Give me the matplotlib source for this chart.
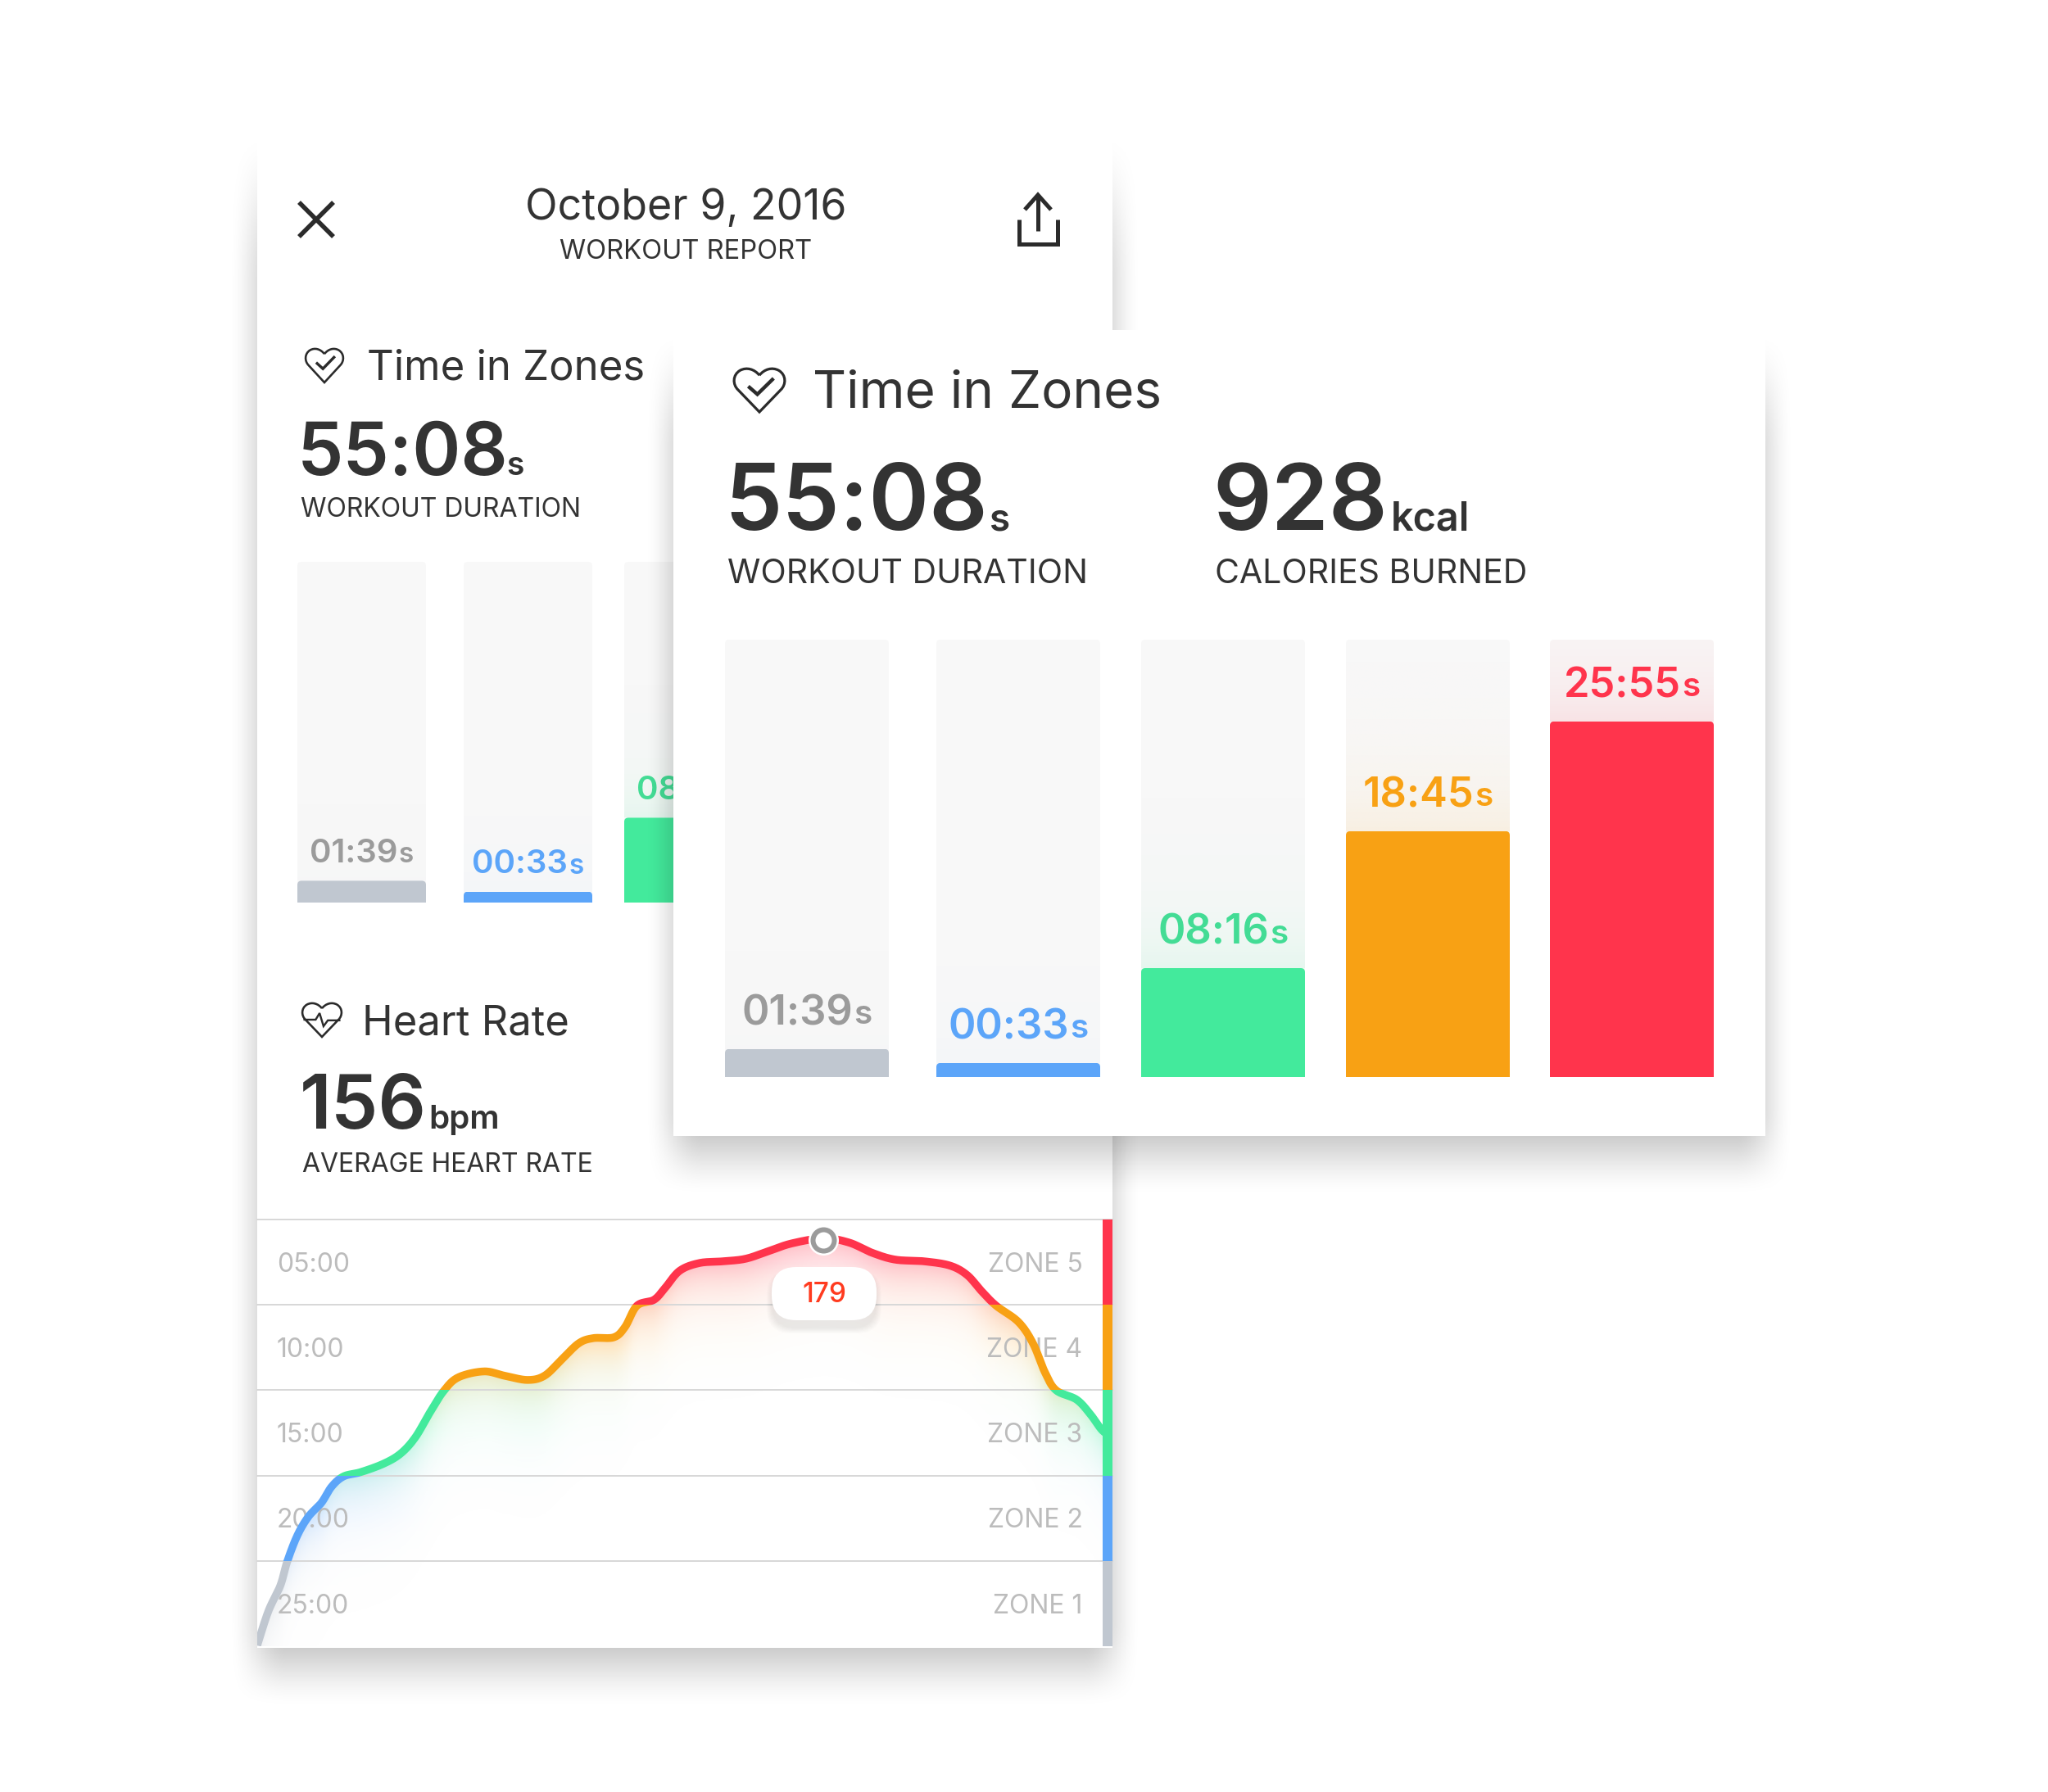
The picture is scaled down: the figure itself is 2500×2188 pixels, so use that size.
#!/usr/bin/env python
"""Workout report mock-up: phone card with heart-rate curve, zoomed zone card on top."""
import matplotlib

matplotlib.use("Agg")
import matplotlib.pyplot as plt
import numpy as np
from matplotlib.colors import to_rgb
from matplotlib.patches import FancyBboxPatch, PathPatch, Rectangle
from matplotlib.path import Path
from matplotlib.transforms import IdentityTransform

plt.rcParams["font.family"] = ["Inter", "DejaVu Sans"]

W, H = 2500, 2188
PX = 0.72  # points per pixel at dpi 100
DARK = "#333333"
TRACK = "#f8f8f8"

# zones, lowest first
ZONE_NAMES = ["ZONE 1", "ZONE 2", "ZONE 3", "ZONE 4", "ZONE 5"]
ZONE_TIMES = ["25:00", "20:00", "15:00", "10:00", "05:00"]
ZONE_COLORS = ["#c0c7d0", "#5ca5f9", "#43ea9c", "#f8a114", "#ff344c"]
ZONE_TEXT = ["#9b9b9b", "#5ca5f9", "#43dc95", "#f8a114", "#ff344c"]
ZONE_WASH = [0.025, 0.025, 0.10, 0.10, 0.11]

# time in zone: label and bar fill (percent of the track)
ZONE_LABELS = ["01:39", "00:33", "08:16", "18:45", "25:55"]
ZONE_FILL = [6.4, 3.2, 24.9, 56.2, 81.3]

# heart-rate curve: percent of chart width, height in zone units
HR_X = [0.0, 1.3, 2.7, 3.5, 4.7, 6.0, 7.5, 8.7, 10.1, 12.1, 14.8, 16.8, 18.5, 20.2, 21.8,
        23.5, 26.5, 28.9, 31.6, 33.6, 35.6, 37.6, 39.3, 41.7, 43.0, 44.4, 46.4, 47.7, 49.4,
        51.7, 54.4, 57.1, 59.8, 62.5, 66.2, 69.2, 71.9, 74.6, 78.0, 81.0, 83.0, 84.7, 86.4,
        89.0, 90.7, 92.1, 93.4, 95.8, 97.4, 98.8, 100.0]
HR_Y = [0.01, 0.41, 0.71, 0.99, 1.30, 1.52, 1.68, 1.87, 1.99, 2.04, 2.14, 2.26, 2.45, 2.74, 2.99,
        3.15, 3.22, 3.17, 3.12, 3.17, 3.36, 3.55, 3.61, 3.62, 3.74, 3.99, 4.06, 4.20, 4.40,
        4.49, 4.51, 4.54, 4.63, 4.72, 4.78, 4.73, 4.61, 4.53, 4.51, 4.46, 4.35, 4.16, 3.99,
        3.80, 3.55, 3.21, 3.00, 2.89, 2.72, 2.53, 2.45]
HR_PEAK = 34  # index of the selected point
HR_PEAK_LABEL = "179"

fig = plt.figure(figsize=(W / 100, H / 100), dpi=100, facecolor="white")


def px_axes(x0, y0, x1, y1, z):
    ax = fig.add_axes([x0 / W, 1 - y1 / H, (x1 - x0) / W, (y1 - y0) / H], zorder=z)
    ax.axis("off")
    ax.patch.set_visible(False)
    return ax


def canvas(z):
    ax = px_axes(0, 0, W, H, z)
    ax.set_xlim(0, W)
    ax.set_ylim(H, 0)
    return ax


def smoothstep(t):
    t = np.clip(t, 0, 1)
    return t * t * (3 - 2 * t)


def card(ax, x0, y0, x1, y1, top_fade):
    """White card with the soft, downward-biased shadow."""
    xx = np.arange(W) + 0.5
    yy = np.arange(H) + 0.5
    sx = smoothstep((xx - (x0 - 36)) / 72) * smoothstep(((x1 + 36) - xx) / 72)
    sy = smoothstep((yy - (y0 - 4)) / top_fade) * smoothstep(((y1 + 76) - yy) / 110)
    rgba = np.zeros((H, W, 4))
    rgba[..., 3] = 0.26 * np.outer(sy, sx)
    ax.imshow(rgba, extent=(0, W, H, 0), aspect="auto", interpolation="nearest", zorder=0)
    ax.set_xlim(0, W)
    ax.set_ylim(H, 0)
    ax.add_patch(Rectangle((x0, y0), x1 - x0, y1 - y0, fc="white", ec="none", zorder=1))


def stat(ax, x, y, num, unit, size, unit_size, gap):
    """Big number with its small unit on the same baseline."""
    t = ax.text(x, y, num, fontsize=size, fontweight=600, color=DARK, va="baseline", zorder=3)
    right = t.get_window_extent(fig.canvas.get_renderer()).x1
    ax.text(right + gap, y, unit, fontsize=unit_size, fontweight=600, color=DARK,
            va="baseline", zorder=3)


def label(ax, x, y, s, size, **kw):
    kw.setdefault("color", DARK)
    ax.text(x, y, s, fontsize=size, va="baseline", zorder=3, **kw)


def heart(ax, x0, y0, w, h, lw):
    verts = [(.5, .17), (.40, .03), (.25, -.02), (.12, .06), (-.03, .16), (-.03, .38), (.08, .50),
             (.5, 1.0), (.92, .50), (1.03, .38), (1.03, .16), (.88, .06), (.75, -.02), (.60, .03),
             (.5, .17)]
    codes = [Path.MOVETO] + [Path.CURVE4] * 6 + [Path.LINETO, Path.LINETO] + [Path.CURVE4] * 6
    pts = np.array(verts) * [w, h] + [x0, y0]
    ax.add_patch(PathPatch(Path(pts, codes), fc="none", ec="#2b2b2b", lw=lw * PX, zorder=3))


def glyph(ax, x0, y0, w, h, pts, lw):
    pts = np.array(pts) * [w, h] + [x0, y0]
    ax.plot(pts[:, 0], pts[:, 1], color="#2b2b2b", lw=lw * PX, zorder=3,
            solid_capstyle="butt", solid_joinstyle="miter")


def rounded(artist, x0, y0, w, h, r):
    """Clip to a box with rounded top corners (display coordinates)."""
    clip = FancyBboxPatch((x0, y0 - 12), w, h + 12, boxstyle=f"round,pad=0,rounding_size={r}",
                          transform=IdentityTransform())
    artist.set_clip_path(clip)


def zone_bars(ax, lefts, width, size, unit_size, lift, gap):
    ax.set_xlim(lefts[0], lefts[-1] + width)
    ax.set_ylim(0, 100)
    rend = fig.canvas.get_renderer()
    rows = zip(lefts, ZONE_FILL, ZONE_LABELS, ZONE_COLORS, ZONE_TEXT, ZONE_WASH)
    for left, fill, text, col, tcol, wash in rows:
        track = ax.bar(left, 100, width=width, align="edge", color=TRACK, zorder=1)[0]
        bb = track.get_window_extent(rend)
        rounded(track, bb.x0, bb.y0, bb.width, bb.height, 5)

        # colour wash above the bar
        v = np.linspace(100, fill, 200)
        rgba = np.zeros((200, 1, 4))
        rgba[..., :3] = to_rgb(col)
        rgba[:, 0, 3] = wash * np.exp(-(v - fill) / 12)
        img = ax.imshow(rgba, extent=(left, left + width, fill, 100), aspect="auto", zorder=2)
        rounded(img, bb.x0, bb.y0, bb.width, bb.height, 5)

        bar = ax.bar(left, fill, width=width, align="edge", color=col, zorder=3)[0]
        bb = bar.get_window_extent(rend)
        rounded(bar, bb.x0, bb.y0, bb.width, bb.height, 5)

        mid = left + width / 2
        t1 = ax.annotate(text, (mid, fill), xytext=(0, lift * PX), textcoords="offset points",
                         fontsize=size, fontweight=600, color=tcol, va="center", ha="left", zorder=4)
        t2 = ax.annotate("s", (mid, fill), xytext=(0, lift * PX), textcoords="offset points",
                         fontsize=unit_size, fontweight=600, color=tcol, va="center", ha="left", zorder=4)
        w1 = t1.get_window_extent(rend).width
        w2 = t2.get_window_extent(rend).width
        start = -(w1 + gap + w2) / 2
        t1.xyann = (start * PX, lift * PX)
        t2.xyann = ((start + w1 + gap) * PX, (lift - 2) * PX)
    ax.set_xlim(lefts[0], lefts[-1] + width)
    ax.set_ylim(0, 100)


def smooth(x, y, n=24):
    """Catmull-Rom pass through the read points, for a drawn line without corners."""
    p = np.column_stack([x, y])
    q = np.vstack([p[0], p, p[-1]])
    t = np.linspace(0, 1, n, endpoint=False)[:, None]
    out = []
    for i in range(1, len(q) - 2):
        p0, p1, p2, p3 = q[i - 1], q[i], q[i + 1], q[i + 2]
        c1, c2 = p1 + (p2 - p0) / 6, p2 - (p3 - p1) / 6
        out.append((1 - t) ** 3 * p1 + 3 * (1 - t) ** 2 * t * c1 + 3 * (1 - t) * t ** 2 * c2 + t ** 3 * p2)
    out.append(p[-1:])
    out = np.vstack(out)
    return out[:, 0], out[:, 1]


# --- phone card ---------------------------------------------------------------
back = canvas(0)
card(back, 314, 158, 1358, 2012, 190)

label(back, 837, 268, "October 9, 2016", 37.3, ha="center")
label(back, 837, 316, "WORKOUT REPORT", 23.5, ha="center")

glyph(back, 365, 247, 42, 42, [(0, 0), (1, 1)], 5.5)
glyph(back, 365, 247, 42, 42, [(1, 0), (0, 1)], 5.5)
# share icon
glyph(back, 1244, 268, 47, 30, [(0, 0), (0, 1), (1, 1), (1, 0)], 5)
glyph(back, 1251, 238, 32, 44, [(.5, 1), (.5, .03)], 5)
glyph(back, 1251, 238, 32, 18, [(0, 1), (.5, 0), (1, 1)], 5)

heart(back, 373, 425, 46, 42, 2.6)
glyph(back, 373, 425, 46, 42, [(.28, .42), (.46, .60), (.78, .24)], 3.4)
label(back, 448, 463, "Time in Zones", 36.6)
stat(back, 363, 580, "55:08", "s", 64.5, 28, -2)
label(back, 367, 631, "WORKOUT DURATION", 23)

heart(back, 369, 1224, 48, 42, 2.6)
glyph(back, 369, 1224, 48, 42, [(.03, .50), (.34, .50), (.44, .31), (.54, .69), (.65, .52), (.97, .52)], 2.4)
label(back, 442, 1263, "Heart Rate", 36.5)
stat(back, 366, 1378, "156", "bpm", 66, 29, 2)
label(back, 369, 1431, "AVERAGE HEART RATE", 23)

small = px_axes(363, 686, 1315, 1102, 1)
zone_bars(small, [363, 566, 762, 960, 1158], 157, 29, 24, 33, 1)

# --- heart-rate chart ---------------------------------------------------------
chart = px_axes(314, 1489, 1358, 2010, 1)
cx, cy = smooth(HR_X, HR_Y)

# glow under the curve, tinted by the band each pixel sits in
gh, gw = 521, 1044
col_x = (np.arange(gw) + 0.5) / gw * 100
col_y = (1 - (np.arange(gh) + 0.5) / gh) * 5
curve_at = np.interp(col_x, cx, cy)
depth = (curve_at[None, :] - col_y[:, None]) * gh / 5
glow = np.zeros((gh, gw, 4))
centres = np.arange(5) + 0.5
rgb = np.array([to_rgb(c) for c in ZONE_COLORS])
for ch in range(3):
    glow[..., ch] = np.interp(col_y, centres, rgb[:, ch])[:, None]
glow[..., 3] = np.where(depth > 0, 0.33 * np.exp(-np.maximum(depth, 0) / 38), 0)
chart.imshow(glow, extent=(0, 100, 0, 5), aspect="auto", zorder=0)

for lvl in range(1, 6):
    chart.axhline(lvl, color="#d8d8d8", lw=2 * PX, zorder=1, clip_on=False)

for i in range(5):
    chart.text(2.3, i + 0.47, ZONE_TIMES[i], color="#bcbcbc", fontsize=23, va="center", ha="left", zorder=2)
    chart.text(96.5, i + 0.47, ZONE_NAMES[i], color="#bcbcbc", fontsize=23, va="center", ha="right", zorder=2)
    line, = chart.plot(cx, cy, color=ZONE_COLORS[i], lw=9.5 * PX, zorder=3, solid_capstyle="butt")
    line.set_clip_path(Rectangle((0, i), 100, 1, transform=chart.transData))
    chart.bar(100, 1, width=-1.15, bottom=i, align="edge", color=ZONE_COLORS[i], zorder=5)

chart.plot(HR_X[HR_PEAK], HR_Y[HR_PEAK] - 0.02, "o", ms=37 * PX, mfc="white", mec="none", zorder=6)
chart.plot(HR_X[HR_PEAK], HR_Y[HR_PEAK] - 0.02, "o", ms=26 * PX, mfc="white", mec=(0.35, 0.35, 0.35, 0.6),
           mew=6 * PX, zorder=7)
chart.set_xlim(0, 100)
chart.set_ylim(0, 5)

# --- zoomed card --------------------------------------------------------------
front = canvas(2)
for k in range(7):
    front.add_patch(FancyBboxPatch((942 - k, 1551 - k + 6), 128 + 2 * k, 65 + 2 * k,
                                   boxstyle="round,pad=0,rounding_size=30",
                                   fc=(0, 0, 0, 0.012), ec="none", zorder=2))
front.add_patch(FancyBboxPatch((942, 1547), 128, 65, boxstyle="round,pad=0,rounding_size=30",
                               fc="white", ec="none", zorder=2.5))
front.text(1006, 1581, HR_PEAK_LABEL, color="#ff3b1f", fontsize=24, fontweight=500,
           ha="center", va="center", zorder=3)

card(front, 822, 403, 2155, 1387, 150)
heart(front, 896, 449, 62, 54, 3.2)
glyph(front, 896, 449, 62, 54, [(.28, .42), (.46, .60), (.78, .24)], 4.4)
label(front, 992, 498, "Time in Zones", 46)
stat(front, 884, 647, "55:08", "s", 80.5, 33, 1)
stat(front, 1480, 647, "928", "kcal", 81, 35, 4)
label(front, 888, 712, "WORKOUT DURATION", 29.5)
label(front, 1483, 712, "CALORIES BURNED", 29.5)

big = px_axes(885, 781, 2092, 1315, 3)
zone_bars(big, [885, 1143, 1393, 1643, 1892], 200, 36.5, 29, 43, 1)

fig.savefig("out.png", dpi=100)
